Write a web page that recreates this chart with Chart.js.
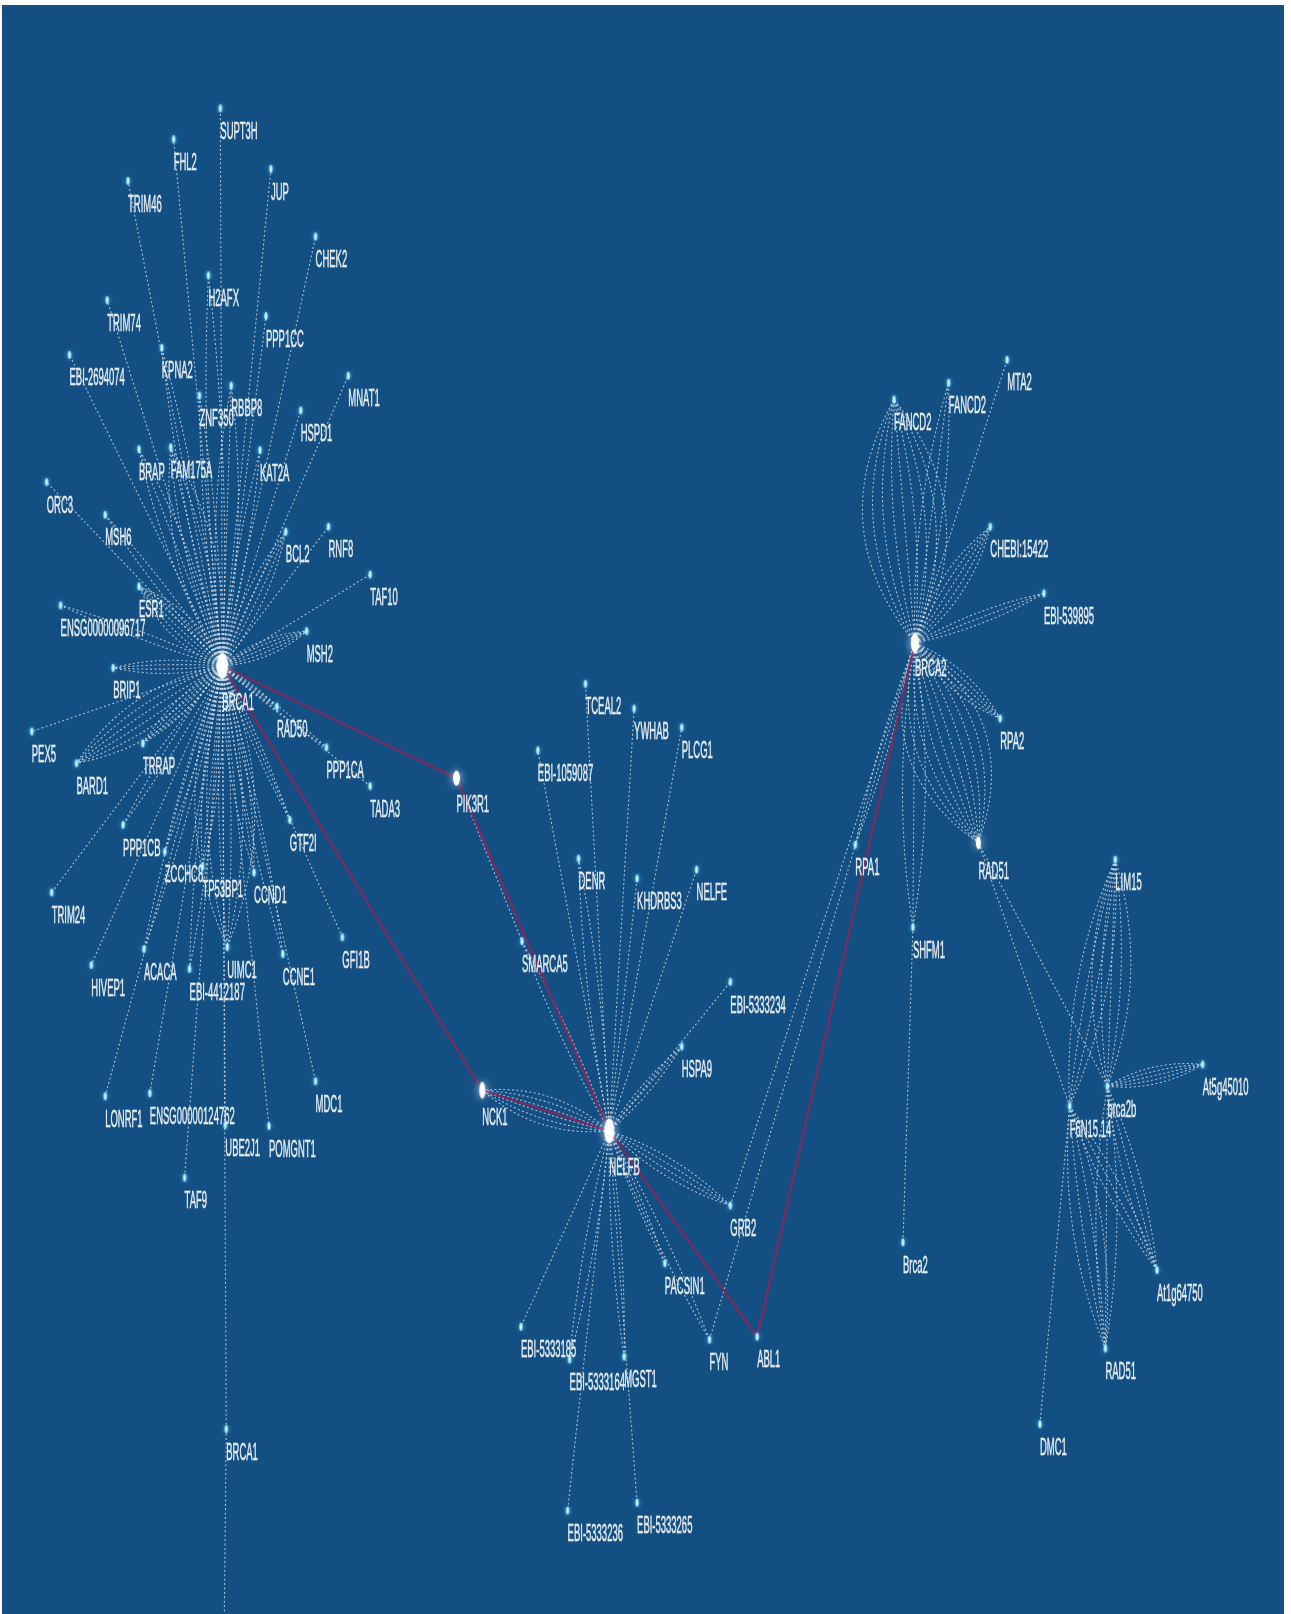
<!DOCTYPE html>
<html>
<head>
<meta charset="utf-8">
<title>BRCA interaction network</title>
<script src="https://cdn.jsdelivr.net/npm/chart.js@4.4.1/dist/chart.umd.min.js"></script>
<style>
  html, body { margin: 0; padding: 0; background: #ffffff; }
  #wrap { width: 1291px; height: 1614px; }
</style>
</head>
<body>
<div id="wrap"><canvas id="network" width="1291" height="1614"></canvas></div>
<script>
// node ids (a "#n" suffix marks a second node carrying the same name)
const nodeIds = [
  'BRCA1', 'SUPT3H', 'FHL2', 'TRIM46', 'JUP', 'CHEK2', 'H2AFX', 'TRIM74', 'PPP1CC', 'EBI-2694074',
  'KPNA2', 'MNAT1', 'ZNF350', 'RBBP8', 'HSPD1', 'BRAP', 'FAM175A', 'KAT2A', 'ORC3', 'MSH6',
  'BCL2', 'RNF8', 'TAF10', 'ESR1', 'ENSG00000096717', 'MSH2', 'BRIP1', 'RAD50', 'PEX5', 'BARD1',
  'TRRAP', 'PPP1CA', 'TADA3', 'GTF2I', 'PPP1CB', 'ZCCHC8', 'TP53BP1', 'CCND1', 'TRIM24', 'HIVEP1',
  'ACACA', 'EBI-4412187', 'UIMC1', 'CCNE1', 'GFI1B', 'LONRF1', 'ENSG00000124762', 'UBE2J1', 'POMGNT1', 'MDC1',
  'TAF9', 'BRCA1#2', 'BRCA1#3',
  'NELFB', 'PIK3R1', 'NCK1', 'TCEAL2', 'YWHAB', 'PLCG1', 'EBI-1059087', 'DENR', 'KHDRBS3', 'NELFE',
  'SMARCA5', 'EBI-5333234', 'HSPA9', 'GRB2', 'PACSIN1', 'EBI-5333185', 'EBI-5333164', 'MGST1', 'FYN', 'ABL1',
  'EBI-5333236', 'EBI-5333265',
  'BRCA2', 'MTA2', 'FANCD2', 'FANCD2#2', 'CHEBI:15422', 'EBI-539895', 'RPA2', 'RPA1', 'RAD51', 'SHFM1',
  'Brca2', 'LIM15', 'At5g45010', 'brca2b', 'F6N15.14', 'At1g64750', 'RAD51#2', 'DMC1'
];

// layout coordinates of each node
const nodeX = [
  219, 217, 170, 124, 268, 313, 205, 103, 263, 65,
  158, 346, 196, 228, 298, 135, 167, 257, 42, 101,
  283, 326, 368, 135, 56, 304, 109, 274, 27, 72,
  139, 324, 368, 287, 119, 161, 199, 251, 47, 87,
  140, 186, 224, 280, 340, 101, 146, 222, 266, 313,
  181, 223, 220,
  609, 455, 481, 585, 634, 682, 537, 578, 637, 697,
  521, 731, 682, 731, 665, 520, 569, 624, 710, 758,
  567, 637,
  917, 1010, 896, 951, 993, 1047, 1003, 857, 981, 915,
  905, 1119, 1207, 1111, 1073, 1161, 1109, 1043
];
const nodeY = [
  665, 104, 135, 177, 165, 233, 272, 297, 313, 352,
  345, 373, 393, 383, 408, 447, 445, 448, 480, 513,
  530, 525, 573, 585, 604, 630, 667, 706, 731, 763,
  743, 747, 786, 820, 825, 852, 867, 873, 893, 966,
  950, 970, 948, 955, 938, 1098, 1095, 1127, 1128, 1083,
  1180, 1433, 1720,
  1133, 778, 1092, 683, 708, 727, 750, 859, 879, 870,
  942, 983, 1048, 1208, 1266, 1330, 1363, 1360, 1343, 1340,
  1515, 1507,
  642, 357, 397, 380, 525, 592, 718, 845, 843, 928,
  1245, 860, 1066, 1088, 1108, 1273, 1352, 1428
];

// interactions: [source, target, number of evidences]
const edges = [
  ['BRCA1', 'SUPT3H', 1], ['BRCA1', 'FHL2', 1], ['BRCA1', 'TRIM46', 1], ['BRCA1', 'JUP', 1],
  ['BRCA1', 'CHEK2', 1], ['BRCA1', 'H2AFX', 2], ['BRCA1', 'TRIM74', 1], ['BRCA1', 'PPP1CC', 1],
  ['BRCA1', 'EBI-2694074', 1], ['BRCA1', 'KPNA2', 2], ['BRCA1', 'MNAT1', 1], ['BRCA1', 'ZNF350', 2],
  ['BRCA1', 'RBBP8', 3], ['BRCA1', 'HSPD1', 1], ['BRCA1', 'BRAP', 3], ['BRCA1', 'FAM175A', 5],
  ['BRCA1', 'KAT2A', 2], ['BRCA1', 'ORC3', 1], ['BRCA1', 'MSH6', 2], ['BRCA1', 'BCL2', 4],
  ['BRCA1', 'RNF8', 1], ['BRCA1', 'TAF10', 1], ['BRCA1', 'ESR1', 6], ['BRCA1', 'ENSG00000096717', 2],
  ['BRCA1', 'MSH2', 5], ['BRCA1', 'BRIP1', 4], ['BRCA1', 'RAD50', 3], ['BRCA1', 'PEX5', 1],
  ['BRCA1', 'BARD1', 6], ['BRCA1', 'TRRAP', 4], ['BRCA1', 'PPP1CA', 2], ['BRCA1', 'TADA3', 1],
  ['BRCA1', 'GTF2I', 2], ['BRCA1', 'PPP1CB', 2], ['BRCA1', 'ZCCHC8', 2], ['BRCA1', 'TP53BP1', 3],
  ['BRCA1', 'CCND1', 3], ['BRCA1', 'TRIM24', 1], ['BRCA1', 'HIVEP1', 1], ['BRCA1', 'ACACA', 2],
  ['BRCA1', 'EBI-4412187', 2], ['BRCA1', 'UIMC1', 6], ['BRCA1', 'CCNE1', 2], ['BRCA1', 'GFI1B', 1],
  ['BRCA1', 'LONRF1', 1], ['BRCA1', 'ENSG00000124762', 1], ['BRCA1', 'UBE2J1', 1], ['BRCA1', 'POMGNT1', 1],
  ['BRCA1', 'MDC1', 1], ['BRCA1', 'TAF9', 1], ['BRCA1', 'BRCA1#2', 1], ['BRCA1#2', 'BRCA1#3', 1],
  ['NELFB', 'TCEAL2', 1], ['NELFB', 'YWHAB', 1], ['NELFB', 'PLCG1', 1], ['NELFB', 'EBI-1059087', 1],
  ['NELFB', 'DENR', 2], ['NELFB', 'KHDRBS3', 1], ['NELFB', 'NELFE', 1], ['NELFB', 'SMARCA5', 2],
  ['NELFB', 'EBI-5333234', 1], ['NELFB', 'HSPA9', 3], ['NELFB', 'NCK1', 6], ['NELFB', 'GRB2', 4],
  ['NELFB', 'PACSIN1', 2], ['NELFB', 'EBI-5333185', 1], ['NELFB', 'EBI-5333164', 2], ['NELFB', 'MGST1', 2],
  ['NELFB', 'FYN', 2], ['NELFB', 'EBI-5333236', 1], ['NELFB', 'EBI-5333265', 1], ['PIK3R1', 'SMARCA5', 1],
  ['GRB2', 'BRCA2', 1], ['FYN', 'BRCA2', 1],
  ['BRCA2', 'FANCD2', 9], ['BRCA2', 'FANCD2#2', 3], ['BRCA2', 'MTA2', 1], ['BRCA2', 'CHEBI:15422', 5],
  ['BRCA2', 'EBI-539895', 3], ['BRCA2', 'RPA2', 5], ['BRCA2', 'RAD51', 10], ['BRCA2', 'SHFM1', 3],
  ['BRCA2', 'RPA1', 2], ['SHFM1', 'Brca2', 1], ['RAD51', 'brca2b', 1], ['RAD51', 'F6N15.14', 1],
  ['LIM15', 'F6N15.14', 4], ['LIM15', 'brca2b', 5], ['brca2b', 'At5g45010', 5], ['brca2b', 'At1g64750', 3],
  ['F6N15.14', 'At1g64750', 3], ['brca2b', 'RAD51#2', 3], ['F6N15.14', 'RAD51#2', 4], ['F6N15.14', 'DMC1', 1]
];

// highlighted path between the two hubs
const pathEdges = [
  ['BRCA1', 'PIK3R1'], ['PIK3R1', 'NELFB'], ['BRCA1', 'NCK1'],
  ['NCK1', 'NELFB'], ['NELFB', 'ABL1'], ['ABL1', 'BRCA2']
];

// ---- styling ----
const BG = '#134f83';
const EDGE = 'rgba(214, 222, 232, 0.78)';
const PATH = '#83285c';
const LABEL = '#e8eef4';
// larger nodes: [width, height, label drop]
const bigNodes = {
  'BRCA1': [11, 26, 25], 'NELFB': [10, 25, 25], 'BRCA2': [8, 20, 14],
  'PIK3R1': [7, 15, 15], 'NCK1': [6, 17, 16], 'RAD51': [5, 13, 18]
};

const indexOf = {};
nodeIds.forEach((id, i) => { indexOf[id] = i; });

function makeSprite(w, h, big) {
  const pad = big ? 9 : 5;
  const c = document.createElement('canvas');
  c.width = Math.ceil(w + pad * 2);
  c.height = Math.ceil(h + pad * 2);
  const g = c.getContext('2d');
  g.shadowColor = big ? 'rgba(200, 235, 255, 0.95)' : 'rgba(70, 190, 255, 0.95)';
  g.shadowBlur = big ? 9 : 4;
  g.fillStyle = big ? '#ffffff' : '#9fe3ff';
  g.beginPath();
  g.ellipse(c.width / 2, c.height / 2, w / 2, h / 2, 0, 0, Math.PI * 2);
  g.fill();
  g.shadowBlur = 0;
  g.fillStyle = big ? '#ffffff' : '#e8f8ff';
  g.beginPath();
  g.ellipse(c.width / 2, c.height / 2, Math.max(w / 2 - 1, 0.7), Math.max(h / 2 - 2, 1), 0, 0, Math.PI * 2);
  g.fill();
  return c;
}

const smallSprite = makeSprite(3.4, 8, false);
const sprites = nodeIds.map(id => bigNodes[id] ? makeSprite(bigNodes[id][0], bigNodes[id][1], true) : smallSprite);

const backdrop = {
  id: 'backdrop',
  beforeDraw(chart) {
    const ctx = chart.ctx;
    ctx.save();
    ctx.fillStyle = '#ffffff';
    ctx.fillRect(0, 0, chart.width, chart.height);
    ctx.fillStyle = BG;
    ctx.fillRect(2, 5, 1282, chart.height - 5);
    ctx.restore();
  }
};

const links = {
  id: 'links',
  beforeDatasetsDraw(chart) {
    const ctx = chart.ctx;
    const sx = chart.scales.x, sy = chart.scales.y;
    const px = id => sx.getPixelForValue(nodeX[indexOf[id]]);
    const py = id => sy.getPixelForValue(nodeY[indexOf[id]]);
    ctx.save();
    ctx.strokeStyle = EDGE;
    ctx.lineWidth = 1.1;
    ctx.setLineDash([2, 2.4]);
    edges.forEach(([a, b, n]) => {
      const x1 = px(a), y1 = py(a), x2 = px(b), y2 = py(b);
      const dx = x2 - x1, dy = y2 - y1;
      const len = Math.hypot(dx, dy);
      const nx = -dy / len, ny = dx / len;
      const step = len * (n > 4 ? 0.085 : 0.08);
      for (let k = 0; k < n; k++) {
        const off = (k - (n - 1) / 2) * step;
        ctx.beginPath();
        ctx.moveTo(x1, y1);
        if (off === 0) {
          ctx.lineTo(x2, y2);
        } else {
          ctx.quadraticCurveTo((x1 + x2) / 2 + nx * off, (y1 + y2) / 2 + ny * off, x2, y2);
        }
        ctx.stroke();
      }
    });
    ctx.setLineDash([]);
    ctx.strokeStyle = PATH;
    ctx.lineWidth = 2.2;
    pathEdges.forEach(([a, b]) => {
      ctx.beginPath();
      ctx.moveTo(px(a), py(a));
      ctx.lineTo(px(b), py(b));
      ctx.stroke();
    });
    ctx.restore();
  }
};

const nodeLabels = {
  id: 'nodeLabels',
  afterDatasetsDraw(chart) {
    const ctx = chart.ctx;
    const meta = chart.getDatasetMeta(0);
    ctx.save();
    ctx.fillStyle = LABEL;
    ctx.strokeStyle = 'rgba(232, 238, 244, 0.6)';
    ctx.lineWidth = 0.9;
    ctx.font = '24px "Liberation Sans", Arial, sans-serif';
    ctx.textBaseline = 'top';
    meta.data.forEach((pt, i) => {
      const id = nodeIds[i];
      const size = bigNodes[id];
      const drop = size ? size[2] : 12;
      const text = id.split('#')[0];
      ctx.save();
      ctx.translate(pt.x, pt.y + drop);
      ctx.scale(0.395, 1);
      ctx.fillText(text, 0, 0);
      ctx.strokeText(text, 0, 0);
      ctx.restore();
    });
    ctx.restore();
  }
};

new Chart(document.getElementById('network'), {
  type: 'scatter',
  data: {
    datasets: [{
      data: nodeIds.map((id, i) => ({ x: nodeX[i], y: nodeY[i] })),
      pointStyle: ctx => sprites[ctx.dataIndex],
      pointRadius: 4,
      pointHoverRadius: 4
    }]
  },
  options: {
    responsive: false,
    animation: false,
    layout: { padding: 0 },
    plugins: { legend: { display: false }, tooltip: { enabled: false } },
    scales: {
      x: { type: 'linear', min: 0, max: 1291, display: false },
      y: { type: 'linear', min: 0, max: 1614, reverse: true, display: false }
    }
  },
  plugins: [backdrop, links, nodeLabels]
});
</script>
</body>
</html>
